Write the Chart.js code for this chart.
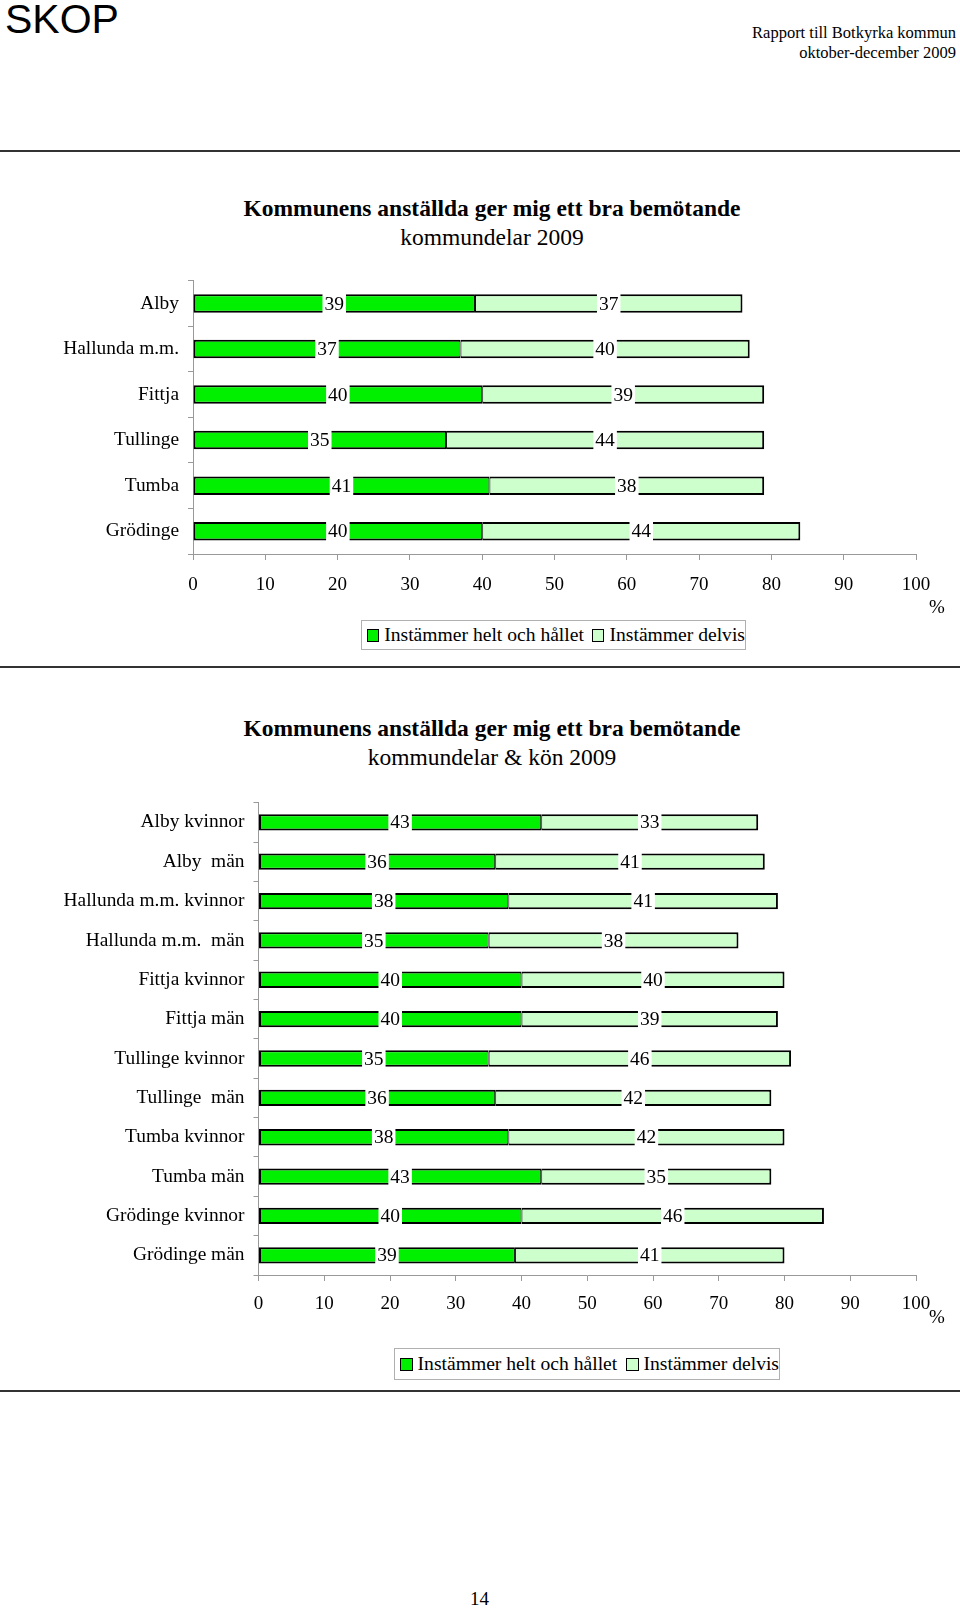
<!DOCTYPE html>
<html>
<head>
<meta charset="utf-8">
<script src="https://cdn.jsdelivr.net/npm/chart.js@4"></script>
<style>
  body { margin: 0; width: 960px; height: 1609px; position: relative; background: #fff; font-family: "Liberation Serif", "DejaVu Serif", serif; color: #000; }
  .abs { position: absolute; }
  .skop { left: 5px; top: -4px; font-family: "Liberation Sans", Arial, sans-serif; font-size: 41px; }
  .head { right: 4px; top: 23px; text-align: right; font-size: 16.5px; line-height: 19.5px; }
  .rule { left: 0; width: 960px; height: 2px; background: #333; }
  .title { left: 142px; width: 700px; text-align: center; font-size: 23.5px; line-height: 29px; }
  .title b { font-weight: bold; }
  .legend { border: 1px solid #b0b0b0; font-size: 19.6px; display: flex; align-items: center; height: 30px; box-sizing: border-box; padding-left: 5px; white-space: nowrap; }
  .sw { display: inline-block; width: 11px; height: 11px; border: 1.5px solid #000; margin-right: 5px; }
  .gap { display: inline-block; width: 9px; }
  .pct { font-size: 19px; }
  canvas { position: absolute; left: 0; }
</style>
</head>
<body>
<div class="abs skop">SKOP</div>
<div class="abs head">Rapport till Botkyrka kommun<br>oktober-december 2009</div>
<div class="abs rule" style="top:150px"></div>

<div class="abs title" style="top:194px"><b>Kommunens anställda ger mig ett bra bemötande</b><br>kommundelar 2009</div>
<canvas id="chart1" width="960" height="340" style="top:260px"></canvas>
<div class="abs pct" style="left:929px; top:596px">%</div>
<div class="abs legend" style="left:361px; top:620px; width:385px">
  <span class="sw" style="background:#00f000"></span>Instämmer helt och hållet<span class="gap"></span><span class="sw" style="background:#ccffcc"></span>Instämmer delvis
</div>
<div class="abs rule" style="top:666px"></div>

<div class="abs title" style="top:714px"><b>Kommunens anställda ger mig ett bra bemötande</b><br>kommundelar &amp; kön 2009</div>
<canvas id="chart2" width="960" height="538" style="top:782px"></canvas>
<div class="abs pct" style="left:929px; top:1306px">%</div>
<div class="abs legend" style="left:394px; top:1348px; width:386px; height:32px">
  <span class="sw" style="background:#00f000"></span>Instämmer helt och hållet<span class="gap"></span><span class="sw" style="background:#ccffcc"></span>Instämmer delvis
</div>
<div class="abs rule" style="top:1390px"></div>

<div class="abs" style="left:470px; top:1588px; font-size:19px">14</div>

<script>
// kommundelar 2009
const areas = ['Alby', 'Hallunda m.m.', 'Fittja', 'Tullinge', 'Tumba', 'Grödinge'];
const areasHelt = [39, 37, 40, 35, 41, 40];
const areasDelvis = [37, 40, 39, 44, 38, 44];

// kommundelar & kön 2009
const groups = ['Alby kvinnor', 'Alby  män', 'Hallunda m.m. kvinnor', 'Hallunda m.m.  män',
  'Fittja kvinnor', 'Fittja män', 'Tullinge kvinnor', 'Tullinge  män',
  'Tumba kvinnor', 'Tumba män', 'Grödinge kvinnor', 'Grödinge män'];
const groupsHelt = [43, 36, 38, 35, 40, 40, 35, 36, 38, 43, 40, 39];
const groupsDelvis = [33, 41, 41, 38, 40, 39, 46, 42, 42, 35, 46, 41];

const seriesNames = ['Instämmer helt och hållet', 'Instämmer delvis'];
const xTicks = [0, 10, 20, 30, 40, 50, 60, 70, 80, 90, 100];

const FONT = '"Liberation Serif", "DejaVu Serif", serif';

// siffror mitt i varje stapeldel, med vit bakgrund
const segLabels = {
  id: 'segLabels',
  afterDatasetsDraw(chart) {
    const ctx = chart.ctx;
    ctx.save();
    ctx.font = '19.5px ' + FONT;
    ctx.textAlign = 'center';
    ctx.textBaseline = 'middle';
    chart.data.datasets.forEach((ds, i) => {
      chart.getDatasetMeta(i).data.forEach((bar, j) => {
        const txt = String(ds.data[j]);
        const cx = (bar.x + bar.base) / 2;
        const w = ctx.measureText(txt).width + 4;
        const h = bar.height + 4;
        ctx.fillStyle = '#fff';
        ctx.fillRect(cx - w / 2, bar.y - h / 2, w, h);
        ctx.fillStyle = '#000';
        ctx.fillText(txt, cx, bar.y + 1);
      });
    });
    ctx.restore();
  }
};

function makeChart(id, labels, helt, delvis, opts) {
  const ctx = document.getElementById(id).getContext('2d');
  return new Chart(ctx, {
    type: 'bar',
    data: {
      labels: labels,
      datasets: [{
        label: seriesNames[0],
        data: helt,
        backgroundColor: '#00f000',
        borderColor: '#000',
        borderWidth: { top: 2, bottom: 2, left: 2, right: 1 },
        borderSkipped: false,
        categoryPercentage: 1,
        barPercentage: opts.barPct,
      }, {
        label: seriesNames[1],
        data: delvis,
        backgroundColor: '#ccffcc',
        borderColor: '#000',
        borderWidth: { top: 2, bottom: 2, left: 1, right: 2 },
        borderSkipped: false,
        categoryPercentage: 1,
        barPercentage: opts.barPct,
      }]
    },
    options: {
      indexAxis: 'y',
      responsive: false,
      devicePixelRatio: 1,
      animation: false,
      layout: { padding: { top: opts.top, right: 44, left: 0, bottom: 0 } },
      plugins: { legend: { display: false }, tooltip: { enabled: false } },
      scales: {
        x: {
          stacked: true,
          min: 0,
          max: 100,
          afterBuildTicks: (scale) => { scale.ticks = xTicks.map(v => ({ value: v })); },
          afterFit: (scale) => { scale.height = opts.xHeight; },
          grid: { drawOnChartArea: false, drawTicks: true, tickLength: 6, color: '#999' },
          border: { display: true, color: '#999' },
          ticks: { color: '#000', font: { family: FONT, size: 19 }, padding: opts.xPad, maxRotation: 0 }
        },
        y: {
          stacked: true,
          afterFit: (scale) => { scale.width = opts.x0; },
          grid: { drawOnChartArea: false, drawTicks: true, tickLength: 5, color: '#999', offset: true },
          border: { display: true, color: '#999' },
          ticks: { color: '#000', font: { family: FONT, size: 19.4 }, padding: 9, autoSkip: false }
        }
      }
    },
    plugins: [segLabels]
  });
}

makeChart('chart1', areas, areasHelt, areasDelvis, { barPct: 0.405, top: 10, xHeight: 46, xPad: 14, x0: 193 });
makeChart('chart2', groups, groupsHelt, groupsDelvis, { barPct: 0.415, top: 11, xHeight: 45, xPad: 12, x0: 258.5 });
</script>
</body>
</html>
